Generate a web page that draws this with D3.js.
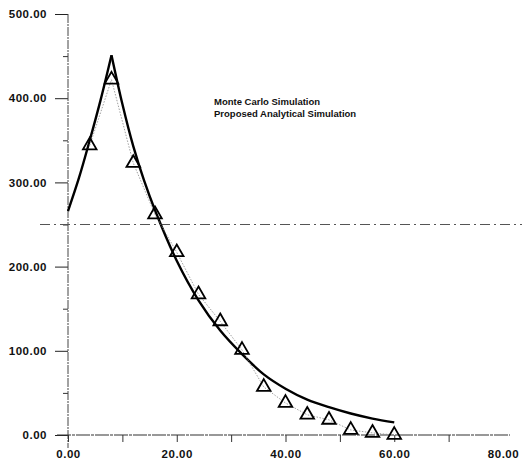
<!DOCTYPE html>
<meta charset="utf-8">
<head>
    <title>Monte Carlo vs Analytical</title>
    <style>
        body { margin: 0; background: #fff; }
        text { font-family: "Liberation Sans", Arial, sans-serif; font-weight: bold; fill: #111; }
    </style>
</head>
<body>
<script src="https://d3js.org/d3.v7.min.js"></script>
<svg id="chart" width="522" height="475"></svg>

<script>
    // Monte Carlo simulation (triangles)
    var mcX = [4, 8, 12, 16, 20, 24, 28, 32, 36, 40, 44, 48, 52, 56, 60];
    var mcY = [344, 422, 323, 262, 217, 167, 135, 101, 57, 38, 24, 18, 6, 2.5, 0];

    // Proposed analytical simulation (solid curve), rise and decay parts
    var riseX = [0, 2, 4, 6, 8];
    var riseY = [266, 305, 350, 398, 451];
    var decayX = [8, 10, 12, 14, 16, 20, 24, 28, 32, 36, 40, 44, 48, 52, 56, 60];
    var decayY = [451, 393, 343, 302, 267, 207, 160, 124, 96, 72, 55, 42, 33, 25.5, 19.5, 15];

    var refLevel = 250;
    var xLabels = [0, 20, 40, 60, 80];
    var xTicks = [0, 10, 20, 30, 40, 50, 60, 70];
    var yLabels = [0, 100, 200, 300, 400, 500];
    var yMinor = [50, 150, 250, 350, 450];
    var legendLabels = ["Monte Carlo Simulation", "Proposed Analytical Simulation"];

    var svg = d3.select("#chart"),
        x = d3.scaleLinear().domain([0, 80]).range([68, 503]),
        y = d3.scaleLinear().domain([0, 500]).range([435, 14]),
        fmt = d3.format(".2f");

    // y axis
    var yAxis = svg.append("g")
        .attr("transform", "translate(68,0)")
        .call(d3.axisLeft(y).tickValues(yLabels).tickSize(13).tickPadding(8).tickSizeOuter(0).tickFormat(fmt));
    yAxis.select(".domain").remove();
    yAxis.selectAll("text").style("font-size", "11.5px").style("letter-spacing", "0.5px");
    yAxis.selectAll("line").attr("stroke", "#222");

    svg.append("g")
        .attr("transform", "translate(68,0)")
        .call(d3.axisLeft(y).tickValues(yMinor).tickSize(5).tickFormat(""))
        .call(g => g.select(".domain").remove())
        .selectAll("line").attr("stroke", "#333");

    svg.append("line")
        .attr("x1", 68).attr("x2", 68)
        .attr("y1", y(500)).attr("y2", 448)
        .attr("stroke", "#444").attr("stroke-width", 1)
        .attr("stroke-dasharray", "9,1,2,1");

    // x axis
    svg.append("line")
        .attr("x1", 57).attr("x2", 510)
        .attr("y1", y(0)).attr("y2", y(0))
        .attr("stroke", "#333").attr("stroke-width", 1.2)
        .attr("stroke-dasharray", "14,1,3,1");

    svg.append("g")
        .attr("transform", "translate(0," + y(0) + ")")
        .call(d3.axisBottom(x).tickValues(xTicks).tickSize(7).tickFormat(""))
        .call(g => g.select(".domain").remove())
        .selectAll("line").attr("stroke", "#333");

    var xAxis = svg.append("g")
        .attr("transform", "translate(0," + y(0) + ")")
        .call(d3.axisBottom(x).tickValues(xLabels).tickSize(0).tickPadding(15).tickFormat(fmt));
    xAxis.select(".domain").remove();
    xAxis.selectAll("text").style("font-size", "11.5px").style("letter-spacing", "0.5px");

    // reference line
    svg.append("line")
        .attr("x1", 40).attr("x2", 522)
        .attr("y1", y(refLevel)).attr("y2", y(refLevel))
        .attr("stroke", "#555").attr("stroke-width", 1)
        .attr("stroke-dasharray", "10,4,2,4");

    // analytical curve
    var line = d3.line()
        .x(d => x(d[0]))
        .y(d => y(d[1]))
        .curve(d3.curveCatmullRom.alpha(0.5));

    [d3.zip(riseX, riseY), d3.zip(decayX, decayY)].forEach(function (pts) {
        svg.append("path")
            .attr("d", line(pts))
            .attr("fill", "none")
            .attr("stroke", "#000")
            .attr("stroke-width", 2.4)
            .attr("stroke-linejoin", "miter");
    });

    // Monte Carlo points
    var mc = d3.zip(mcX, mcY);
    svg.append("path")
        .attr("d", d3.line().x(d => x(d[0])).y(d => y(d[1]))(mc))
        .attr("fill", "none")
        .attr("stroke", "#888")
        .attr("stroke-width", 0.8)
        .attr("stroke-dasharray", "1.5,1.5");

    var tri = d3.symbol().type(d3.symbolTriangle).size(80);
    svg.selectAll(".mc")
        .data(mc)
        .enter().append("path")
        .attr("class", "mc")
        .attr("d", tri)
        .attr("transform", d => "translate(" + x(d[0]) + "," + y(d[1]) + ")")
        .attr("fill", "none")
        .attr("stroke", "#000")
        .attr("stroke-width", 1.8);

    // legend text
    svg.selectAll(".legend")
        .data(legendLabels)
        .enter().append("text")
        .attr("class", "legend")
        .attr("x", 214)
        .attr("y", (d, i) => 105 + i * 12)
        .style("font-size", "9.5px")
        .text(d => d);
</script>

</body>
